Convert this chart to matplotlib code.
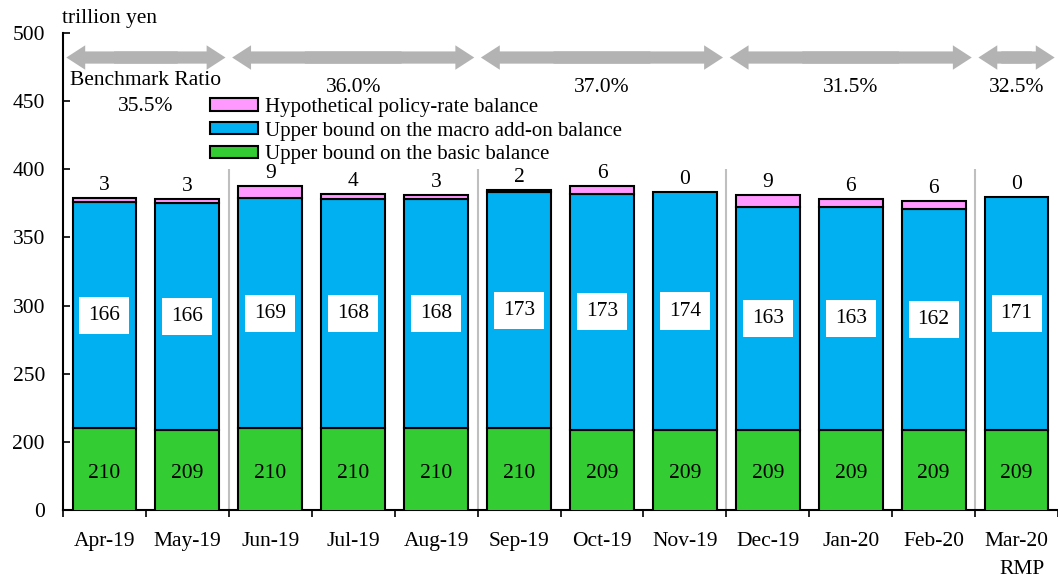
import numpy as np
import matplotlib
matplotlib.use("Agg")
import matplotlib.pyplot as plt
from matplotlib.patches import FancyArrowPatch, Patch

plt.rcParams.update({
    "font.family": ["Liberation Serif", "DejaVu Serif"],
    "font.size": 15.5,
})

# balances, trillion yen
months = ["Apr-19", "May-19", "Jun-19", "Jul-19", "Aug-19", "Sep-19",
          "Oct-19", "Nov-19", "Dec-19", "Jan-20", "Feb-20", "Mar-20"]
basic = [210, 209, 210, 210, 210, 210, 209, 209, 209, 209, 209, 209]
macro = [166, 166, 169, 168, 168, 173, 173, 174, 163, 163, 162, 171]
policy = [3, 3, 9, 4, 3, 2, 6, 0, 9, 6, 6, 0]

# benchmark-ratio periods: (first month index, last month index, ratio)
periods = [(0, 1, "35.5%"), (2, 4, "36.0%"), (5, 7, "37.0%"),
           (8, 10, "31.5%"), (11, 11, "32.5%")]

C_BASIC = "#33cc33"
C_MACRO = "#00b0f0"
C_POLICY = "#ff99ff"
GREY = "#b3b3b3"

Y_MIN = 150          # axis is cut: the bottom tick reads 0
W = 0.77

x = np.arange(len(months))
basic = np.array(basic)
macro = np.array(macro)
policy = np.array(policy)

fig = plt.figure(figsize=(10.58, 5.83), dpi=100)
ax = fig.add_axes([63 / 1058, 1 - 510 / 583, 995 / 1058, 477 / 583])

edge = dict(edgecolor="black", linewidth=1.5, width=W)
ax.bar(x, basic, color=C_BASIC, zorder=3, **edge)
ax.bar(x, macro, bottom=basic, color=C_MACRO, zorder=3, **edge)
top = basic + macro
for xi, p, b in zip(x, policy, top):
    if p > 0:
        ax.bar(xi, p, bottom=b, color=C_POLICY, zorder=3, **edge)

# value labels
for xi, g, m, p in zip(x, basic, macro, policy):
    ax.text(xi, (Y_MIN + g) / 2 - 3, str(g), ha="center", va="center",
            zorder=5)
    ax.text(xi, g + m / 2, str(m), ha="center", va="center", zorder=5,
            bbox=dict(boxstyle="square,pad=0.42", fc="white", ec="none"))
    ax.annotate(str(p), (xi, g + m + p), xytext=(0, 9),
                textcoords="offset points", ha="center", va="center",
                zorder=5)

# period separators
for start, end, _ in periods[1:]:
    ax.plot([start - 0.5, start - 0.5], [Y_MIN, 400], color="#bfbfbf",
            lw=1.5, zorder=2, solid_capstyle="butt")

# double-headed period arrows (two overlapping halves) and ratio labels
for start, end, label in periods:
    left, right = start - 0.5 + 0.04, end + 0.5 - 0.04
    mid = (left + right) / 2
    span = right - left
    for tip, base in ((left, mid + 0.2 * span), (right, mid - 0.2 * span)):
        ax.add_patch(FancyArrowPatch(
            (base, 482), (tip, 482),
            arrowstyle="simple,head_length=0.85,head_width=1.1,tail_width=0.55",
            mutation_scale=16, color=GREY, lw=0, shrinkA=0, shrinkB=0,
            clip_on=False, zorder=4))
    cx = (start + end) / 2
    if start == 0:
        ax.text(cx, 465, "Benchmark Ratio", ha="center", va="center")
        ax.text(cx, 446, label, ha="center", va="center")
    else:
        ax.text(cx, 460, label, ha="center", va="center")

ax.set_xlim(-0.5, len(months) - 0.5)
ax.set_ylim(Y_MIN, 500)

yt = [150, 200, 250, 300, 350, 400, 450, 500]
ax.set_yticks(yt)
ax.set_yticklabels(["0"] + [str(v) for v in yt[1:]])
ax.tick_params(axis="y", direction="in", length=5, width=1.2, pad=13)

ax.set_xticks(x)
ax.set_xticklabels(months)
ax.set_xticks(np.arange(-0.5, len(months)), minor=True)
ax.tick_params(axis="x", which="major", length=0, pad=16)
ax.tick_params(axis="x", which="minor", direction="out", length=5, width=1.2)

for s in ("top", "right"):
    ax.spines[s].set_visible(False)
for s in ("left", "bottom"):
    ax.spines[s].set_linewidth(1.5)

fig.text(62 / 1058, 1 - 18 / 583, "trillion yen", ha="left", va="center")
fig.text(1022 / 1058, 1 - 570 / 583, "RMP", ha="center", va="center")

handles = [Patch(fc=C_POLICY, ec="black", lw=1.5),
           Patch(fc=C_MACRO, ec="black", lw=1.5),
           Patch(fc=C_BASIC, ec="black", lw=1.5)]
labels = ["Hypothetical policy-rate balance",
          "Upper bound on the macro add-on balance",
          "Upper bound on the basic balance"]
fig.legend(handles, labels, loc="upper left",
           bbox_to_anchor=(210 / 1058, 1 - 98 / 583), frameon=False,
           fontsize=15, handlelength=2.3, handleheight=0.55,
           handletextpad=0.35, labelspacing=0.22, borderpad=0,
           borderaxespad=0)

fig.savefig("out.png", dpi=100)
